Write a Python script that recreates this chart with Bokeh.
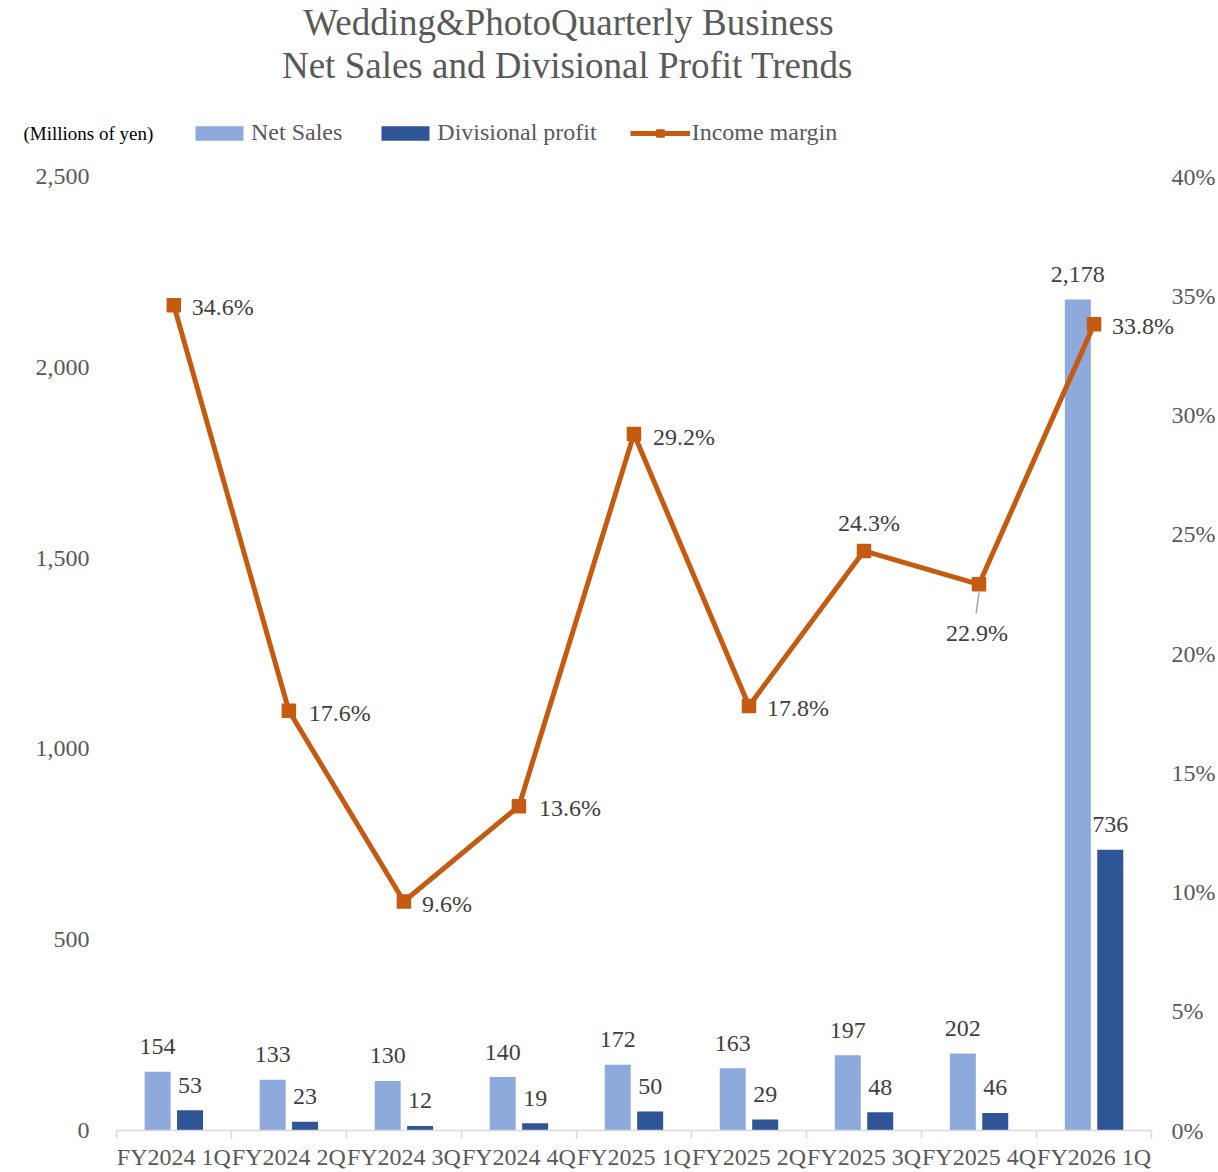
import numpy as np
from bokeh.plotting import figure
from bokeh.models import (Range1d, LinearAxis, FixedTicker, NumeralTickFormatter,
                          ColumnDataSource, Legend, LegendItem, Label)
from bokeh.core.properties import value
from bokeh.embed import file_html
from bokeh.resources import INLINE

categories = ["FY2024 1Q", "FY2024 2Q", "FY2024 3Q", "FY2024 4Q", "FY2025 1Q",
              "FY2025 2Q", "FY2025 3Q", "FY2025 4Q", "FY2026 1Q"]
net_sales = [154, 133, 130, 140, 172, 163, 197, 202, 2178]
div_profit = [53, 23, 12, 19, 50, 29, 48, 46, 736]
income_margin = [34.6, 17.6, 9.6, 13.6, 29.2, 17.8, 24.3, 22.9, 33.8]
left_ticks = [0, 500, 1000, 1500, 2000, 2500]
right_ticks = [0, 5, 10, 15, 20, 25, 30, 35, 40]

FONT = "Liberation Serif"
GRAY = "#595959"
DARK = "#404040"
SALES_C = "#8EA9DB"
PROFIT_C = "#2F5597"
LINE_C = "#C55A11"

n = len(categories)
xc = np.arange(n) + 0.5
margin_frac = [m / 100 for m in income_margin]

# ---- layout geometry (pixels) ----
W, H = 1218, 1172
AX_L, AX_R = 116, 1153          # where the category axis starts / ends
AX_TOP, AX_BOT = 176, 1130      # where 2,500 / 0 sit
FR_L, FR_R = 10, 1200           # frame edges (frame is wide so labels are not clipped)
u = (AX_R - AX_L) / n           # px per category
v = (AX_BOT - AX_TOP) / left_ticks[-1]   # px per million yen
vp = (AX_BOT - AX_TOP) / (right_ticks[-1] / 100)
x_start = (FR_L - AX_L) / u
x_end = n + (FR_R - AX_R) / u
y_end = AX_BOT / v
p_end = AX_BOT / vp

p = figure(width=W, height=H, output_backend="svg", toolbar_location=None,
           x_range=Range1d(x_start, x_end), y_range=Range1d(0, y_end),
           min_border_left=FR_L, min_border_right=W - FR_R, min_border_top=0,
           min_border_bottom=H - AX_BOT, outline_line_color=None,
           background_fill_color="white", border_fill_color="white")
p.extra_y_ranges = {"pct": Range1d(0, p_end)}
p.grid.visible = False

# x axis: labels at centres, ticks at boundaries
xa = p.xaxis[0]
xa.bounds = (0, n)
xa.ticker = FixedTicker(ticks=list(xc), minor_ticks=list(range(n + 1)))
xa.major_label_overrides = {float(x): c for x, c in zip(xc, categories)}
xa.major_tick_out = 0
xa.major_tick_in = 0
xa.minor_tick_out = 8
xa.minor_tick_in = 0
xa.minor_tick_line_color = "#D9D9D9"
xa.minor_tick_line_width = 1.5
xa.axis_line_color = "#D9D9D9"
xa.axis_line_width = 1.5
xa.major_label_text_font = FONT
xa.major_label_text_font_size = "24px"
xa.major_label_text_color = GRAY
xa.major_label_standoff = 5

ya = p.yaxis[0]
ya.ticker = FixedTicker(ticks=left_ticks)
ya.formatter = NumeralTickFormatter(format="0,0")
ya.axis_line_color = None
ya.major_tick_line_color = None
ya.minor_tick_line_color = None
ya.major_tick_out = 0
ya.major_tick_in = 0
ya.major_label_text_font = FONT
ya.major_label_text_font_size = "24px"
ya.major_label_text_color = GRAY
ya.major_label_standoff = FR_L - 89

ra = LinearAxis(y_range_name="pct", ticker=FixedTicker(ticks=[t / 100 for t in right_ticks]),
                formatter=NumeralTickFormatter(format="0%"))
ra.axis_line_color = None
ra.major_tick_line_color = None
ra.minor_tick_line_color = None
ra.major_tick_out = 0
ra.major_tick_in = 0
ra.major_label_text_font = FONT
ra.major_label_text_font_size = "24px"
ra.major_label_text_color = GRAY
ra.major_label_standoff = 1173 - FR_R
p.add_layout(ra, "right")

# bars
bw = 0.226
off = 0.141
r_sales = p.vbar(x=xc - off, top=net_sales, width=bw, bottom=0, fill_color=SALES_C, line_color=None)
r_profit = p.vbar(x=xc + off, top=div_profit, width=bw, bottom=0, fill_color=PROFIT_C, line_color=None)

p.text(x=xc - off, y=net_sales, text=[f"{v_:,}" for v_ in net_sales], text_align="center",
       text_baseline="middle", y_offset=-25, text_font=value(FONT), text_font_size="24px",
       text_color=DARK)
p.text(x=xc + off, y=div_profit, text=[f"{v_:,}" for v_ in div_profit], text_align="center",
       text_baseline="middle", y_offset=-25, text_font=value(FONT), text_font_size="24px",
       text_color=DARK)

# line
r_line = p.line(x=xc, y=margin_frac, y_range_name="pct", line_color=LINE_C, line_width=5,
                line_join="round")
r_mark = p.scatter(x=xc, y=margin_frac, y_range_name="pct", marker="square", size=13,
                   fill_color=LINE_C, line_color=LINE_C, line_join="round", line_width=1.5)

# margin labels placement
lab_align = ["left", "left", "left", "left", "left", "left", "center", "center", "left"]
lab_dx = [18, 20, 18, 20, 19, 18, 5, -2, 18]
lab_dy = [2, 2, 2, 2, 3, 2, -28, 49, 2]
msrc = ColumnDataSource(dict(x=xc, y=margin_frac, t=[f"{m:.1f}%" for m in income_margin],
                             a=lab_align, dx=lab_dx, dy=lab_dy))
p.text(x="x", y="y", text="t", source=msrc, y_range_name="pct", text_align="a",
       text_baseline="middle", x_offset="dx", y_offset="dy", text_font=value(FONT),
       text_font_size="24px", text_color=DARK)

# leader line for the label placed below its point
i_lead = 7
p.segment(x0=[xc[i_lead]], x1=[xc[i_lead] - 0.025], y0=[margin_frac[i_lead] - 8 / vp],
          y1=[margin_frac[i_lead] - 29 / vp], y_range_name="pct", line_color="#A6A6A6",
          line_width=1.5)

# legend
legend = Legend(items=[LegendItem(label="Net Sales", renderers=[r_sales]),
                       LegendItem(label="Divisional profit", renderers=[r_profit]),
                       LegendItem(label="Income margin", renderers=[r_line, r_mark])],
                orientation="horizontal", location=(189 - FR_L, AX_BOT - 146),
                glyph_width=60, glyph_height=18,
                label_standoff=2, spacing=33, padding=0, margin=0,
                border_line_color=None, background_fill_alpha=0,
                label_text_font=FONT, label_text_font_size="24px", label_text_color=GRAY)
p.add_layout(legend, "center")

# texts placed in frame-relative screen units
p.add_layout(Label(x=23 - FR_L, y=AX_BOT - 133, x_units="screen", y_units="screen",
                   text="(Millions of yen)", text_font=FONT, text_font_size="19px",
                   text_color="black", text_align="left", text_baseline="middle"))
p.add_layout(Label(x=568 - FR_L, y=AX_BOT - 22, x_units="screen", y_units="screen",
                   text="Wedding&PhotoQuarterly Business", text_font=FONT,
                   text_font_size="37px", text_color=GRAY, text_align="center",
                   text_baseline="middle"))
p.add_layout(Label(x=567 - FR_L, y=AX_BOT - 65, x_units="screen", y_units="screen",
                   text="Net Sales and Divisional Profit Trends", text_font=FONT,
                   text_font_size="37px", text_color=GRAY, text_align="center",
                   text_baseline="middle"))

open("out.html", "w").write(file_html(p, INLINE))
